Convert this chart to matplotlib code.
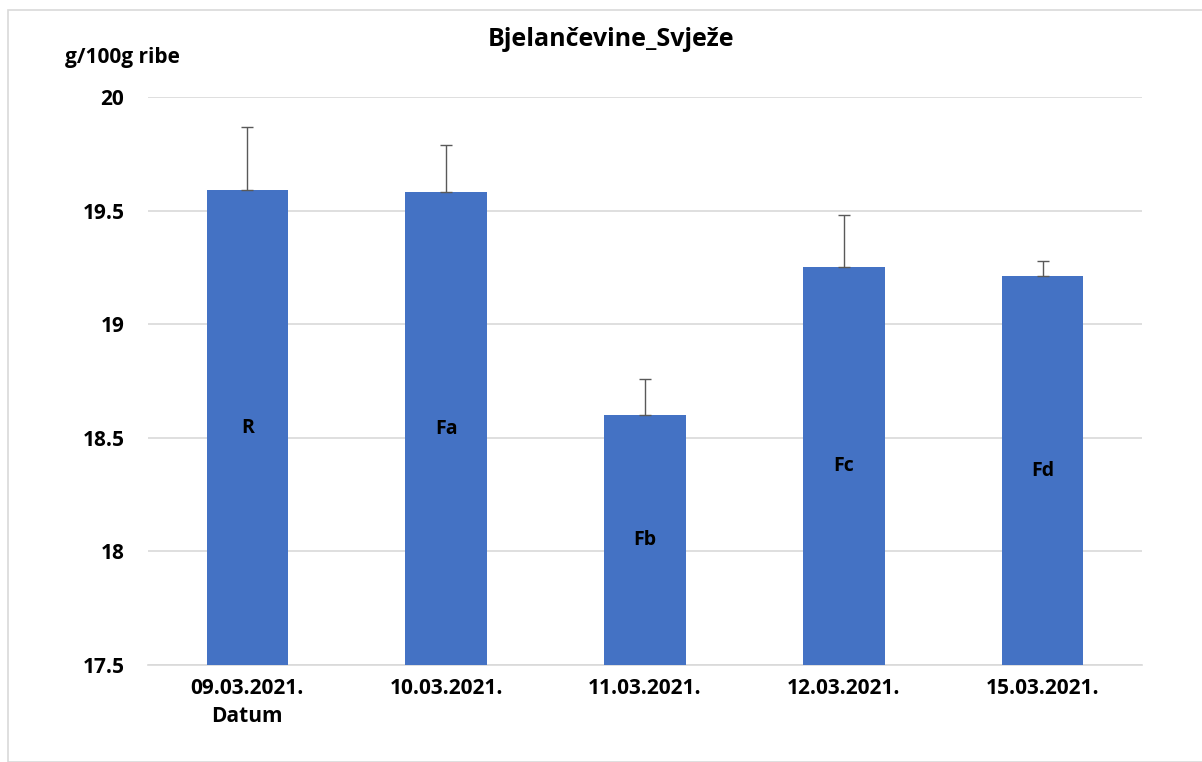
import matplotlib.pyplot as plt
from matplotlib.patches import Rectangle

dates = ["09.03.2021.", "10.03.2021.", "11.03.2021.", "12.03.2021.", "15.03.2021."]
groups = ["R", "Fa", "Fb", "Fc", "Fd"]
values = [19.59, 19.58, 18.60, 19.25, 19.21]
errors = [0.28, 0.21, 0.16, 0.23, 0.07]
y_ticks = [17.5, 18, 18.5, 19, 19.5, 20]
y_tick_labels = ["17.5", "18", "18.5", "19", "19.5", "20"]

plt.rcParams['font.family'] = ['Open Sans', 'DejaVu Sans']
W, H = 1202, 762
fig = plt.figure(figsize=(W / 100, H / 100), dpi=100)
ax = fig.add_axes([148 / W, 1 - 665 / H, (1142 - 148) / W, (665 - 97) / H])

x = list(range(len(dates)))
bar_color = "#4472C4"
ax.bar(x, [v - 17.5 for v in values], bottom=17.5, width=0.41, color=bar_color, zorder=3)
ax.errorbar(x, values, yerr=[[0] * len(errors), errors], fmt="none", ecolor="#595959",
            elinewidth=1, capsize=4, capthick=1, zorder=4)
for xi, v, g in zip(x, values, groups):
    ax.text(xi, (v + 17.5) / 2, g, ha="center", va="center", fontsize=14,
            fontweight="bold", color="black", zorder=5)

ax.set_xlim(-0.5, len(dates) - 0.5)
ax.set_ylim(17.5, 20)
ax.set_yticks(y_ticks)
ax.set_yticklabels(y_tick_labels, fontsize=15, fontweight="bold")
ax.set_xticks(x)
ax.set_xticklabels(dates, fontsize=15, fontweight="bold")
ax.tick_params(axis="both", length=0)
ax.tick_params(axis="y", pad=17)
ax.tick_params(axis="x", pad=9)
ax.grid(axis="y", color="#D9D9D9", linewidth=1.2, zorder=0)
for s in ["top", "right", "left"]:
    ax.spines[s].set_visible(False)
ax.spines["bottom"].set_color("#D9D9D9")
ax.spines["bottom"].set_linewidth(1.2)

fig.text(611 / W, 1 - 40 / H, "Bjelančevine_Svježe", ha="center", va="center",
         fontsize=18, fontweight="bold")
fig.text(65 / W, 1 - 58 / H, "g/100g ribe", ha="left", va="center",
         fontsize=15, fontweight="bold")
fig.text(247 / W, 1 - 717 / H, "Datum", ha="center", va="center",
         fontsize=15, fontweight="bold")

fig.patches.append(Rectangle((8 / W, 0), 1.2, 1 - 10 / H, transform=fig.transFigure,
                             fill=False, edgecolor="#D9D9D9", linewidth=1.2))

fig.savefig("out.png", dpi=100)
